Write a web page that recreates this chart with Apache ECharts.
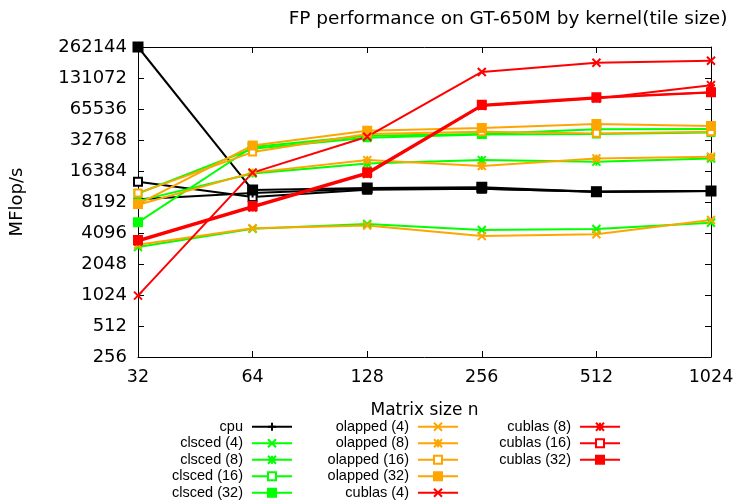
<!DOCTYPE html>
<html>
<head>
<meta charset="utf-8">
<script src="https://cdn.jsdelivr.net/npm/echarts@6/dist/echarts.min.js"></script>
<style>html,body{margin:0;padding:0;background:#fff}#c{width:738px;height:500px}</style>
</head>
<body>
<div id="c"></div>
<script>
const sizes = [32, 64, 128, 256, 512, 1024];
const yTicks = [256, 512, 1024, 2048, 4096, 8192, 16384, 32768, 65536, 131072, 262144];
const cpu = [8700, 10000, 11000, 11000, 10300, 10500];
const cpuB = [12900, 9150, 10800, 11000, 10300, 10500];
const cpuC = [262144, 10700, 11200, 11400, 10300, 10500];
const clsced4 = [3000, 4500, 5000, 4380, 4480, 5160];
const clsced8 = [8400, 15500, 19400, 20900, 20200, 21700];
const clsced16 = [9900, 27000, 34500, 37000, 37400, 38800];
const clsced32 = [5200, 28000, 36000, 37500, 41700, 42000];
const olapped4 = [3150, 4550, 4850, 3820, 3980, 5480];
const olapped8 = [7700, 15800, 20900, 18300, 21700, 22500];
const olapped16 = [10000, 25000, 37500, 39500, 38000, 39500];
const olapped32 = [7830, 29000, 40400, 42900, 46800, 44700];
const cublas4 = [1010, 15800, 35300, 150000, 184000, 193000];
const cublas8 = [3380, 7250, 15300, 70000, 83000, 111700];
const cublas16 = [3440, 7380, 15600, 71000, 84000, 94600];
const cublas32 = [3500, 7500, 15900, 72000, 85000, 95500];

const BLACK = '#000000', GREEN = '#00ff00', ORANGE = '#ffa500', RED = '#ff0000';
const SYM = {
  plus: 'path://M5,0L5,10M0,5L10,5',
  cross: 'path://M0,0L10,10M10,0L0,10',
  star: 'path://M0,0L10,10M10,0L0,10M5,0L5,10M0,5L10,5',
  open: 'emptyRect',
  filled: 'rect'
};
const FONT = 'DejaVu Sans, sans-serif';
const LFONT = 'Liberation Sans, Arial, sans-serif';

function mk(name, vals, color, sym, size) {
  return {
    name: name, type: 'line', data: sizes.map((s, i) => [s, vals[i]]),
    symbol: SYM[sym], symbolSize: size || 9,
    showAllSymbol: true, clip: false,
    lineStyle: { color: color, width: 2 },
    itemStyle: { color: color, borderColor: color, borderWidth: 2 },
    emphasis: { disabled: true }, animation: false
  };
}

const series = [
  mk('', cpuB, BLACK, 'open', 8),
  mk(' ', cpuC, BLACK, 'filled', 9),
  mk('cpu', cpu, BLACK, 'plus', 9),
  mk('clsced (4)', clsced4, GREEN, 'cross', 8),
  mk('clsced (8)', clsced8, GREEN, 'star', 8),
  mk('clsced (16)', clsced16, GREEN, 'open', 7),
  mk('clsced (32)', clsced32, GREEN, 'filled', 8),
  mk('olapped (4)', olapped4, ORANGE, 'cross', 8),
  mk('olapped (8)', olapped8, ORANGE, 'star', 8),
  mk('olapped (16)', olapped16, ORANGE, 'open', 7),
  mk('olapped (32)', olapped32, ORANGE, 'filled', 8),
  mk('cublas (4)', cublas4, RED, 'cross', 8),
  mk('cublas (8)', cublas8, RED, 'star', 8),
  mk('cublas (16)', cublas16, RED, 'open', 7),
  mk('cublas (32)', cublas32, RED, 'filled', 8)
];

function legend(names, right) {
  return {
    data: names, orient: 'vertical', align: 'right', right: right, top: 419, height: 120,
    padding: 0, itemGap: 1, itemWidth: 40, itemHeight: 10, selectedMode: false,
    textStyle: { fontFamily: LFONT, fontSize: 14.5, color: '#000', padding: [0, 4, 0, 0], lineHeight: 15.5 }
  };
}

const axisCommon = {
  type: 'log', logBase: 2,
  axisLine: { show: true, lineStyle: { color: '#000', width: 1 } },
  axisTick: { show: true, inside: true, length: 6, lineStyle: { color: '#000' } },
  splitLine: { show: false },
  minorTick: { show: false }
};

const option = {
  backgroundColor: '#fff',
  animation: false,
  title: {
    text: 'FP performance on GT-650M by kernel(tile size)',
    left: 503, top: 5, textAlign: 'center',
    textStyle: { fontFamily: FONT, fontSize: 18.5, fontWeight: 'normal', color: '#000' }
  },
  grid: { left: 138, right: 27, top: 47, bottom: 143 },
  xAxis: [
    Object.assign({}, axisCommon, {
      min: 32, max: 1024, interval: 1, position: 'bottom',
      name: 'Matrix size n', nameLocation: 'middle', nameGap: 45,
      nameTextStyle: { fontFamily: FONT, fontSize: 17, color: '#000' },
      axisLabel: { fontFamily: FONT, fontSize: 17.5, color: '#000', margin: 11,
        formatter: v => String(Math.round(v)) }
    }),
    Object.assign({}, axisCommon, {
      min: 32, max: 1024, interval: 1, position: 'top',
      axisLabel: { show: false }
    })
  ],
  yAxis: [
    Object.assign({}, axisCommon, {
      min: 256, max: 262144, interval: 1, position: 'left',
      name: 'MFlop/s', nameLocation: 'middle', nameGap: 112, nameRotate: 90,
      nameTextStyle: { fontFamily: FONT, fontSize: 18, color: '#000' },
      axisLabel: { fontFamily: FONT, fontSize: 18, color: '#000', margin: 11,
        formatter: v => String(Math.round(v)) }
    }),
    Object.assign({}, axisCommon, {
      min: 256, max: 262144, interval: 1, position: 'right',
      axisLabel: { show: false }
    })
  ],
  legend: [
    legend(['cpu', 'clsced (4)', 'clsced (8)', 'clsced (16)', 'clsced (32)'], 445),
    legend(['olapped (4)', 'olapped (8)', 'olapped (16)', 'olapped (32)', 'cublas (4)'], 279),
    legend(['cublas (8)', 'cublas (16)', 'cublas (32)'], 117)
  ],
  series: series
};

const chart = echarts.init(document.getElementById('c'), null, { renderer: 'canvas' });
chart.setOption(option);
</script>
</body>
</html>
